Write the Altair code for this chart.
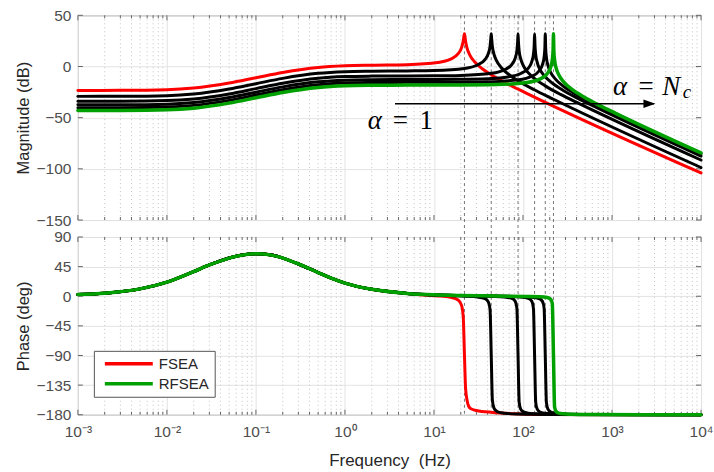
import altair as alt
import pandas as pd

# ---------------- values ----------------
RES_HZ = [22, 44, 88, 135, 178, 220]          # resonance frequencies (dotted markers)
DECADES = [0.001, 0.01, 0.1, 1, 10, 100, 1000, 10000]
MAG_TICKS = [-150, -100, -50, 0, 50]
PHASE_TICKS = [-180, -135, -90, -45, 0, 45, 90]

# Magnitude (dB)
MAG_F_FSEA = [0.001, 0.003, 0.01, 0.02, 0.05, 0.1, 0.2, 0.5, 1, 2, 5,
              11, 15.4, 18.7, 20.46, 21.34, 21.78, 22, 22.22, 22.66, 23.54, 25.3, 28.6, 35.2, 44, 66, 110, 10000]
MAG_FSEA = [-23.4, -23.3, -22.7, -21.1, -16.2, -11.0, -5.8, -0.9, 0.7, 1.3, 1.8,
            3.9, 7.25, 12.5, 18.6, 25.1, 30.4, 32.0, 30.3, 24.7, 18.0, 11.2, 4.6, -2.5, -8.1, -16.7, -26.2, -104.0]

MAG_F_A2 = [0.001, 0.003, 0.01, 0.02, 0.05, 0.1, 0.2, 0.5, 1, 2, 5, 10,
            22, 30.8, 37.4, 40.9, 42.7, 43.56, 44, 44.44, 45.3, 47.1, 50.6, 57.2, 70.4, 88, 132, 220, 10000]
MAG_A2 = [-29.2, -29.1, -28.5, -26.9, -22.0, -16.8, -11.6, -6.7, -5.1, -4.6, -4.3, -3.9,
          -1.9, 1.45, 6.7, 12.9, 19.9, 27.7, 32.0, 27.5, 19.6, 12.3, 5.4, -1.2, -8.3, -13.9, -22.5, -32.0, -98.7]

MAG_F_A3 = [0.001, 0.003, 0.01, 0.02, 0.05, 0.1, 0.2, 0.5, 1, 2, 5, 10, 20,
            44, 61.6, 74.8, 81.8, 85.4, 87.1, 88, 88.9, 90.6, 94.2, 101.2, 114.4, 140.8, 176, 264, 440, 10000]
MAG_A3 = [-34.0, -33.9, -33.3, -31.7, -26.8, -21.6, -16.4, -11.5, -9.9, -9.4, -9.2, -9.1, -8.7,
          -6.7, -3.35, 1.9, 8.2, 15.3, 24.1, 32.0, 24.0, 15.0, 7.6, 0.6, -6.0, -13.1, -18.7, -27.3, -36.8, -91.4]

MAG_F_A4 = [0.001, 0.003, 0.01, 0.02, 0.05, 0.1, 0.2, 0.5, 1, 2, 5, 10, 20, 40,
            67.5, 94.5, 114.8, 125.6, 131, 133.7, 135, 136.4, 139, 144.5, 155, 175.5, 216, 270, 405, 675, 10000]
MAG_A4 = [-37.5, -37.4, -36.8, -35.2, -30.3, -25.1, -19.9, -15.0, -13.4, -12.9, -12.7, -12.65, -12.5, -11.9,
          -10.2, -6.85, -1.6, 4.7, 11.9, 21.0, 32.0, 20.9, 11.6, 4.1, -2.9, -9.5, -16.6, -22.2, -30.8, -40.3, -87.5]

MAG_F_A5 = [0.001, 0.003, 0.01, 0.02, 0.05, 0.1, 0.2, 0.5, 1, 2, 5, 10, 20, 40,
            89, 124.6, 151.3, 165.5, 172.7, 176.2, 178, 179.8, 183.3, 190.5, 204.7, 231.4, 284.8, 356, 534, 890, 10000]
MAG_A5 = [-40.3, -40.2, -39.6, -38.0, -33.1, -27.9, -22.7, -17.8, -16.2, -15.7, -15.5, -15.45, -15.4, -15.0,
          -13.0, -9.65, -4.4, 1.9, 9.05, 18.3, 32.0, 18.2, 8.8, 1.3, -5.7, -12.3, -19.4, -25.0, -33.6, -43.1, -85.5]

MAG_F_RFSEA = [0.001, 0.003, 0.01, 0.02, 0.05, 0.1, 0.2, 0.5, 1, 2, 5, 10, 20, 50,
               110, 154, 187, 204.6, 213.4, 217.8, 220, 222.2, 226.6, 235.4, 253, 286, 352, 440, 660, 1100, 10000]
MAG_RFSEA = [-43.0, -42.9, -42.3, -40.7, -35.8, -30.6, -25.4, -20.5, -18.9, -18.4, -18.2, -18.15, -18.1, -17.7,
             -15.7, -12.35, -7.1, -0.8, 6.3, 15.7, 32.0, 15.6, 6.1, -1.4, -8.4, -15.0, -22.1, -27.7, -36.3, -45.8, -84.5]

# Phase (deg): common low-frequency part (all curves overlap there)
PH_F_SHARED = [0.001, 0.002, 0.005, 0.01, 0.02, 0.03, 0.05, 0.07, 0.1, 0.15, 0.2, 0.3, 0.5, 0.7, 1, 2, 5]
PH_SHARED = [2.5, 4.6, 11.2, 21.5, 37.5, 47.5, 58.0, 62.5, 64.5, 62.5, 58.0, 49.0, 36.0, 27.5, 20.0, 10.5, 4.3]

PH_F_FSEA = [10, 11, 15.4, 18.7, 20.46, 21.34, 22, 22.66, 23.54, 24.5, 26, 30, 46, 80, 150, 10000]
PH_FSEA = [0.9, 0.5, -1.7, -5.8, -14.3, -32.2, -89.0, -140.0, -158.0, -167.0, -171.0, -173.5, -176.5, -178.5, -179.5, -180.0]

PH_F_A2 = [10, 22, 30.8, 37.4, 40.9, 42.7, 44, 45.3, 47.1, 50.6, 57.2, 70.4, 88, 132, 220, 10000]
PH_A2 = [1.9, 0.1, -1.2, -3.6, -8.9, -21.0, -89.5, -157.4, -169.5, -174.6, -177.0, -178.3, -178.9, -179.3, -179.6, -180.0]

PH_F_A3 = [10, 20, 44, 61.6, 74.8, 81.8, 85.4, 88, 90.6, 94.2, 101.2, 114.4, 140.8, 176, 264, 10000]
PH_A3 = [2.0, 1.0, -0.3, -1.2, -3.2, -7.6, -17.9, -89.7, -161.0, -171.4, -175.7, -177.6, -178.6, -179.1, -179.5, -180.0]

PH_F_A4 = [10, 20, 40, 67.5, 94.5, 114.8, 125.6, 131, 135, 139, 144.5, 155, 175.5, 216, 270, 405, 10000]
PH_A4 = [2.1, 1.1, 0.4, -0.4, -1.3, -3.3, -7.7, -18.0, -89.8, -161.1, -171.5, -175.8, -177.7, -178.7, -179.2, -179.5, -180.0]

PH_F_A5 = [10, 20, 40, 89, 124.6, 151.3, 165.5, 172.7, 178, 183.3, 190.5, 204.7, 231.4, 284.8, 356, 534, 10000]
PH_A5 = [2.1, 1.1, 0.5, -0.5, -1.4, -3.4, -7.8, -18.1, -89.9, -161.2, -171.5, -175.8, -177.7, -178.7, -179.2, -179.5, -180.0]

PH_F_RFSEA = [10, 20, 50, 110, 154, 187, 204.6, 213.4, 220, 226.6, 235.4, 253, 286, 352, 440, 660, 10000]
PH_RFSEA = [2.1, 1.1, 0.45, -0.3, -0.8, -2.0, -4.7, -11.0, -89.9, -168.4, -174.8, -177.5, -178.6, -179.2, -179.5, -179.7, -180.0]

# annotation: arrow from alpha=1 to alpha=N_c (frequency in Hz, magnitude in dB)
ARROW_HZ = [3.65, 2950]
ARROW_TIP_HZ = 3076
ARROW_DB = -36.4
ANN_ITALIC = ["α", "α", "N"]
ANN_ITALIC_HZ = [2.16, 1235, 4624]
ANN_ITALIC_DB = [-60.8, -28.3, -28.3]
ANN_SUB = ["c"]
ANN_SUB_HZ = [6950]
ANN_SUB_DB = [-30.9]
ANN_UP = ["=", "1", "="]
ANN_UP_HZ = [4.19, 8.18, 2416]
ANN_UP_DB = [-60.8, -60.8, -28.3]

# ---------------- tables ----------------
def table(pairs):
    rows = []
    for name, fs, vs in pairs:
        assert len(fs) == len(vs), name
        for f, v in zip(fs, vs):
            rows.append({"curve": name, "f": f, "v": v})
    return pd.DataFrame(rows)

mag_df = table([
    ("FSEA", MAG_F_FSEA, MAG_FSEA), ("a2", MAG_F_A2, MAG_A2), ("a3", MAG_F_A3, MAG_A3),
    ("a4", MAG_F_A4, MAG_A4), ("a5", MAG_F_A5, MAG_A5), ("RFSEA", MAG_F_RFSEA, MAG_RFSEA)])
ph_df = table([
    ("FSEA", PH_F_SHARED + PH_F_FSEA, PH_SHARED + PH_FSEA),
    ("a2", PH_F_SHARED + PH_F_A2, PH_SHARED + PH_A2),
    ("a3", PH_F_SHARED + PH_F_A3, PH_SHARED + PH_A3),
    ("a4", PH_F_SHARED + PH_F_A4, PH_SHARED + PH_A4),
    ("a5", PH_F_SHARED + PH_F_A5, PH_SHARED + PH_A5),
    ("RFSEA", PH_F_SHARED + PH_F_RFSEA, PH_SHARED + PH_RFSEA)])

res_df = pd.DataFrame({"f": RES_HZ})
minor_df = pd.DataFrame({"f": [m * 10.0 ** k for k in range(-3, 4) for m in range(2, 10)]})
major_df = pd.DataFrame({"f": DECADES})

# ---------------- styling ----------------
W, H_TOP, H_BOT, GAP = 624, 205, 178, 17
FONT = "Liberation Sans"
LABEL_C, TITLE_C = "#4d4d4d", "#262626"
GRID_C = "#e3e3e3"
TICK_C = "#666666"
RED, GREEN = "#ff0000", "#00a000"

xscale = alt.Scale(type="log", domain=[1e-3, 1e4], nice=False)

sup = ("datum.value < 0.005 ? '10⁻³' : datum.value < 0.05 ? '10⁻²' : datum.value < 0.5 ? '10⁻¹' : "
       "datum.value < 5 ? '10⁰' : datum.value < 50 ? '10¹' : datum.value < 500 ? '10²' : "
       "datum.value < 5000 ? '10³' : '10⁴'")

x_axis_top = alt.Axis(values=DECADES, labels=False, ticks=False, domain=False, grid=True,
                      gridColor=GRID_C, title=None)
x_axis_bot = alt.Axis(values=DECADES, labelExpr=sup, ticks=False, domain=False, grid=True,
                      gridColor=GRID_C, title="Frequency\u00a0 (Hz)", labelFontSize=15.5,
                      labelColor=LABEL_C, labelPadding=10, titleFontSize=17, titleColor=TITLE_C,
                      titleFontWeight="normal", titlePadding=12, labelFlush=False)


def y_axis(title, vals):
    return alt.Axis(values=vals, title=title, grid=True, gridColor=GRID_C, ticks=False, domain=False,
                    labelFontSize=15.5, labelColor=LABEL_C, labelPadding=7, titleFontSize=16.5,
                    titleColor=TITLE_C, titleFontWeight="normal", titleX=-54, titleBaseline="middle")


def panel(df, height, xaxis, ydomain, yaxis, yvals, top):
    X = lambda: alt.X("f:Q", scale=xscale, axis=xaxis)
    Y = lambda: alt.Y("v:Q", scale=alt.Scale(domain=ydomain, nice=False, zero=False), axis=yaxis)
    base_line = dict(interpolate="monotone", strokeJoin="round", strokeCap="round")
    color_scale = alt.Scale(domain=["FSEA", "RFSEA"], range=[RED, GREEN])
    legend = None
    if not top:
        legend = alt.Legend(title=None, orient="none", legendX=16, legendY=114,
                            symbolType="M-4,0H4", symbolSize=144, symbolStrokeWidth=3.5,
                            symbolOffset=22, labelOffset=22, labelFontSize=15, labelFont=FONT,
                            labelColor=TITLE_C, fillColor="white", strokeColor="#555555",
                            padding=5, rowPadding=4, cornerRadius=0)

    ytick_df = pd.DataFrame({"v": yvals})
    minor = alt.Chart(minor_df).mark_rule(color="#c4c4c4", strokeDash=[1, 3], strokeWidth=1).encode(
        x=X(), y=alt.value(0), y2=alt.value(height))
    tick_b = alt.Chart(minor_df).mark_rule(color=TICK_C, strokeWidth=1).encode(
        x=X(), y=alt.value(height - 3), y2=alt.value(height))
    tick_t = alt.Chart(minor_df).mark_rule(color=TICK_C, strokeWidth=1).encode(
        x=X(), y=alt.value(0), y2=alt.value(3))
    mtick_b = alt.Chart(major_df).mark_rule(color=TICK_C, strokeWidth=1).encode(
        x=X(), y=alt.value(height - 5), y2=alt.value(height))
    mtick_t = alt.Chart(major_df).mark_rule(color=TICK_C, strokeWidth=1).encode(
        x=X(), y=alt.value(0), y2=alt.value(5))
    ytick_l = alt.Chart(ytick_df).mark_rule(color=TICK_C, strokeWidth=1).encode(
        y=Y(), x=alt.value(0), x2=alt.value(5))
    ytick_r = alt.Chart(ytick_df).mark_rule(color=TICK_C, strokeWidth=1).encode(
        y=Y(), x=alt.value(W - 5), x2=alt.value(W))
    res = alt.Chart(res_df).mark_rule(color="#666666", strokeDash=[3, 3], strokeWidth=0.9).encode(
        x=X(), y=alt.value(0), y2=alt.value(height + GAP if top else height))

    red = alt.Chart(df).transform_filter(alt.datum.curve == "FSEA").mark_line(
        strokeWidth=3, **base_line).encode(
        x=X(), y=Y(), color=alt.Color("curve:N", scale=color_scale, legend=legend))
    black = alt.Chart(df).transform_filter(
        (alt.datum.curve != "FSEA") & (alt.datum.curve != "RFSEA")).mark_line(
        strokeWidth=3, color="black", **base_line).encode(x=X(), y=Y(), detail="curve:N")
    green = alt.Chart(df).transform_filter(alt.datum.curve == "RFSEA").mark_line(
        strokeWidth=3.5, **base_line).encode(
        x=X(), y=Y(), color=alt.Color("curve:N", scale=color_scale, legend=legend))

    layers = [minor, res, tick_b, tick_t, mtick_b, mtick_t, ytick_l, ytick_r, red, black, green]

    if top:
        arrow = alt.Chart(pd.DataFrame({"f": [ARROW_HZ[0]], "f2": [ARROW_HZ[1]], "v": [ARROW_DB]})
                          ).mark_rule(color="black", strokeWidth=1.6).encode(x=X(), x2="f2:Q", y=Y())
        head = alt.Chart(pd.DataFrame({"f": [ARROW_TIP_HZ], "v": [ARROW_DB]})).mark_point(
            shape="M0,0L-2,-0.7L-2,0.7Z", size=144, filled=True, color="black", opacity=1).encode(x=X(), y=Y())
        it = alt.Chart(pd.DataFrame({"t": ANN_ITALIC, "f": ANN_ITALIC_HZ, "v": ANN_ITALIC_DB})).mark_text(
            font="Liberation Serif", fontStyle="italic", fontSize=27, baseline="alphabetic",
            align="center", color="black").encode(x=X(), y=Y(), text="t:N")
        sub = alt.Chart(pd.DataFrame({"t": ANN_SUB, "f": ANN_SUB_HZ, "v": ANN_SUB_DB})).mark_text(
            font="Liberation Serif", fontStyle="italic", fontSize=19, baseline="alphabetic",
            align="center", color="black").encode(x=X(), y=Y(), text="t:N")
        up = alt.Chart(pd.DataFrame({"t": ANN_UP, "f": ANN_UP_HZ, "v": ANN_UP_DB})).mark_text(
            font="Liberation Serif", fontSize=27, baseline="alphabetic",
            align="center", color="black").encode(x=X(), y=Y(), text="t:N")
        layers += [arrow, head, it, sub, up]

    return alt.layer(*layers).properties(width=W, height=height)


top = panel(mag_df, H_TOP, x_axis_top, [-150, 50], y_axis("Magnitude (dB)", MAG_TICKS), MAG_TICKS, True)
bot = panel(ph_df, H_BOT, x_axis_bot, [-180, 90], y_axis("Phase (deg)", PHASE_TICKS), PHASE_TICKS, False)

chart = alt.vconcat(top, bot, spacing=GAP, bounds="flush").resolve_scale(color="independent").properties(
    padding={"left": 15, "top": 7, "right": 0, "bottom": 0}
).configure(font=FONT).configure_view(stroke="#8a8a8a", strokeWidth=1)

chart.save("out.html", embed_options={"renderer": "svg", "actions": False})
